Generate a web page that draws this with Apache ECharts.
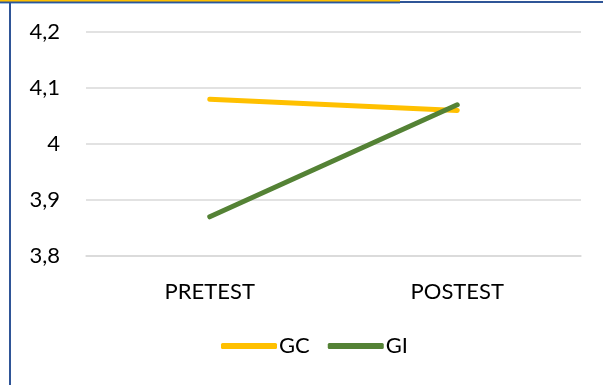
<!DOCTYPE html>
<html>
<head>
<meta charset="utf-8">
<script src="https://cdn.jsdelivr.net/npm/echarts@6/dist/echarts.min.js"></script>
<style>
  html, body { margin: 0; padding: 0; background: #fff; }
  #chart { width: 603px; height: 385px; }
</style>
</head>
<body>
<div id="chart"></div>
<script>
// Mean scores per group, before and after the intervention
const categories = ['PRETEST', 'POSTEST'];
const gcValues = [4.08, 4.06];
const giValues = [3.87, 4.07];
const seriesNames = ['GC', 'GI'];

const FONT = 'Lato';
const chart = echarts.init(document.getElementById('chart'), null, { renderer: 'canvas' });

function fmt(v) {
  return String(+(+v).toFixed(1)).replace('.', ',');
}

chart.setOption({
  animation: false,
  backgroundColor: '#ffffff',
  textStyle: { fontFamily: FONT },
  graphic: [
    // page frame: top rule with highlighted segment, left rule
    { type: 'rect', shape: { x: 0, y: 1, width: 603, height: 2 }, style: { fill: '#2f5597' }, silent: true },
    { type: 'rect', shape: { x: 0, y: 3, width: 400, height: 1 }, style: { fill: '#9dc3e6' }, silent: true },
    { type: 'rect', shape: { x: 0, y: 0, width: 400, height: 1.5 }, style: { fill: '#ffc000' }, silent: true },
    { type: 'rect', shape: { x: 9, y: 3, width: 2, height: 382 }, style: { fill: '#2f5597' }, silent: true }
  ],
  grid: { left: 86, right: 22, top: 32, bottom: 129 },
  legend: {
    bottom: 23,
    left: 216,
    icon: 'roundRect',
    itemWidth: 56,
    itemHeight: 6,
    itemGap: 18,
    data: seriesNames,
    textStyle: { fontFamily: FONT, fontSize: 22, color: '#000', padding: [0, 0, 0, -3] }
  },
  xAxis: {
    type: 'category',
    data: categories,
    boundaryGap: true,
    axisLine: { show: true, lineStyle: { color: '#d9d9d9', width: 1.5 } },
    axisTick: { show: false },
    axisLabel: { fontFamily: FONT, fontSize: 22, color: '#000', margin: 25 }
  },
  yAxis: {
    type: 'value',
    min: 3.8,
    max: 4.2,
    interval: 0.1,
    axisLine: { show: false },
    axisTick: { show: false },
    splitLine: { lineStyle: { color: '#d9d9d9', width: 1.5 } },
    axisLabel: { fontFamily: FONT, fontSize: 22, color: '#000', margin: 26, formatter: fmt }
  },
  series: [
    {
      name: seriesNames[0], type: 'line', data: gcValues, symbol: 'none',
      itemStyle: { color: '#ffc000' },
      lineStyle: { color: '#ffc000', width: 5, cap: 'round' }
    },
    {
      name: seriesNames[1], type: 'line', data: giValues, symbol: 'none',
      itemStyle: { color: '#548235' },
      lineStyle: { color: '#548235', width: 5, cap: 'round' }
    }
  ]
});
</script>
</body>
</html>
